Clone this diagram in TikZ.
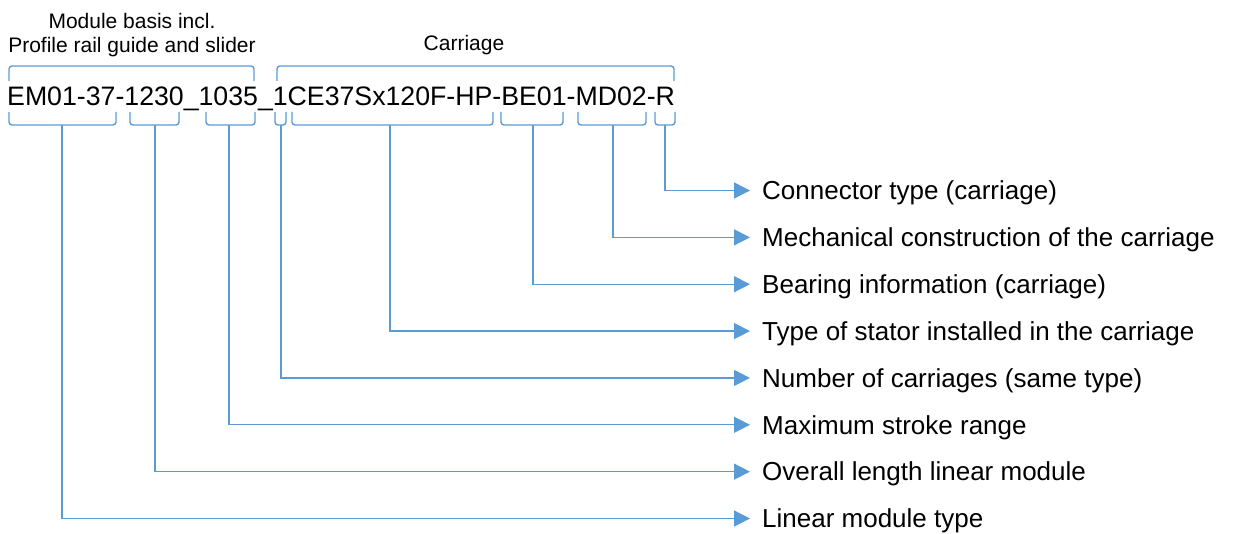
\documentclass[tikz,border=0pt]{standalone}
\usepackage{fontspec}
\setmainfont{Liberation Sans}
\usetikzlibrary{arrows.meta}
\definecolor{lineblue}{RGB}{91,155,213}

\begin{document}
\begin{tikzpicture}[x=1pt, y=-1pt,
  brace/.style={draw=lineblue, line width=1.4pt, rounded corners=3pt},
  conn/.style={draw=lineblue, line width=1.4pt, -{Triangle[length=16pt,width=16pt]}},
  lbl/.style={anchor=west, inner xsep=12pt, inner ysep=0pt, font=\fontsize{26}{30}\selectfont, text height=18.6pt, text depth=0pt},
  head/.style={inner sep=0pt, font=\fontsize{21}{24}\selectfont}]
  \useasboundingbox (0,0) rectangle (1235,534);
  % headings above the code
  \node[head, align=center] (basis) at (132,35) {Module basis incl.\\Profile rail guide and slider};
  \node[head, text height=15pt, text depth=0pt] (carriage) at (464,43) {Carriage};
  \draw[brace] (9,81) -- (9,66) -- (254,66) -- (254,81);
  \draw[brace] (277,81) -- (277,66) -- (674,66) -- (674,81);
  % the code itself
  \node[anchor=west, inner sep=0pt, font=\fontsize{26.7}{30}\selectfont, text height=19pt, text depth=0pt] (code) at (7,96) {EM01-37-1230\_1035\_1CE37Sx120F-HP-BE01-MD02-R};
  % braces below the code and their meanings
  \foreach \xa/\xb/\xs/\txt [count=\i] in {
    655/675/665/{Connector type (carriage)},
    578/646/613/{Mechanical construction of the carriage},
    501/563/533/{Bearing information (carriage)},
    292/493/390/{Type of stator installed in the carriage},
    275/286/281/{Number of carriages (same type)},
    206/255/229/{Maximum stroke range},
    130/179/155/{Overall length linear module},
    9/116/62/{Linear module type}}
  {
    \draw[brace] (\xa,112) -- (\xa,125) -- (\xb,125) -- (\xb,112);
    \coordinate (stem\i) at (\xs,125);
    \node[lbl] (lbl\i) at (750,{143.64+46.86*\i}) {\txt};
    \draw[conn] (stem\i) |- (lbl\i.west);
  }
\end{tikzpicture}
\end{document}
